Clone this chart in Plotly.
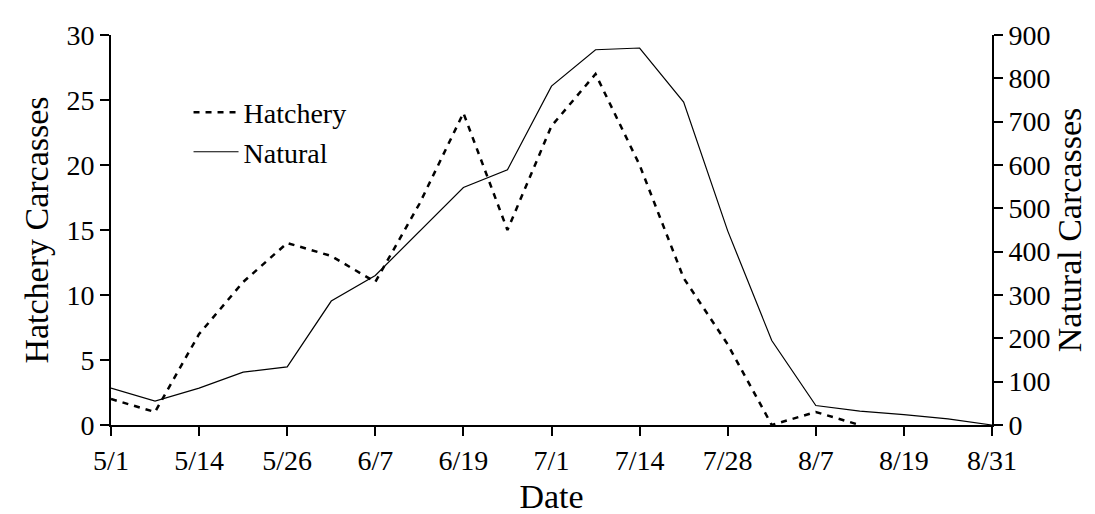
import plotly.graph_objects as go

# 21 sampling occasions, labels shown on every other one
tick_labels = ["5/1", "5/14", "5/26", "6/7", "6/19", "7/1", "7/14", "7/28", "8/7", "8/19", "8/31"]
n_points = 21
x_index = list(range(n_points))

hatchery = [2, 1, 7, 11, 14, 13, 11, 17, 24, 15, 23, 27, 20, 11.3, 6.2, 0, 1, 0]
natural = [85, 55, 85, 122, 134, 286, 345, 447, 548, 589, 782, 866, 870, 745, 448, 195, 45, 32, 24, 14, 0]

FONT = "Liberation Serif, Times New Roman, serif"
FS = 28

fig = go.Figure()
fig.add_trace(go.Scatter(
    x=x_index[:len(hatchery)], y=hatchery, name="Hatchery", mode="lines",
    line=dict(color="black", width=2.5, dash="6px,6px"), yaxis="y"))
fig.add_trace(go.Scatter(
    x=x_index, y=natural, name="Natural", mode="lines",
    line=dict(color="black", width=1.2), yaxis="y2"))

fig.update_layout(
    width=1095, height=514,
    margin=dict(l=103, r=111, t=21, b=97),
    paper_bgcolor="white", plot_bgcolor="white",
    font=dict(family=FONT, size=FS, color="black"),
    showlegend=True,
    legend=dict(x=0.088, y=0.865, xanchor="left", yanchor="top",
                bgcolor="rgba(0,0,0,0)", itemwidth=45,
                font=dict(family=FONT, size=FS)),
    xaxis=dict(range=[0, n_points - 1],
               tickvals=x_index[::2], ticktext=tick_labels,
               showline=True, linecolor="black", linewidth=2,
               ticks="outside", ticklen=9, tickwidth=2, tickcolor="black",
               showgrid=False, zeroline=False,
               title=dict(text="Date", standoff=10)),
    yaxis=dict(range=[0, 30], tickvals=[0, 5, 10, 15, 20, 25, 30],
               showline=True, linecolor="black", linewidth=2,
               ticks="outside", ticklen=9, tickwidth=2, tickcolor="black",
               showgrid=False, zeroline=False,
               title=dict(text="Hatchery Carcasses", standoff=8)),
    yaxis2=dict(range=[0, 900], tickvals=list(range(0, 901, 100)),
                overlaying="y", side="right",
                showline=True, linecolor="black", linewidth=2,
                ticks="outside", ticklen=9, tickwidth=2, tickcolor="black",
                showgrid=False, zeroline=False,
                title=dict(text="Natural Carcasses", standoff=8)),
)

fig.write_html("out.html")
